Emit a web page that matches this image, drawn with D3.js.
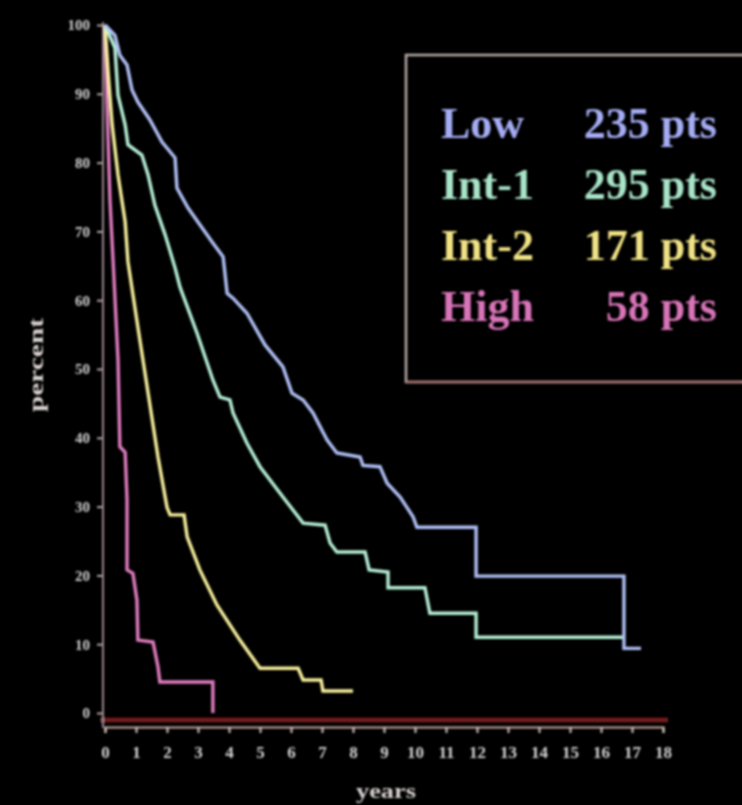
<!DOCTYPE html>
<html>
<head>
<meta charset="utf-8">
<script src="https://cdn.jsdelivr.net/npm/d3@7/dist/d3.min.js"></script>
<style>
  html, body { margin: 0; padding: 0; background: #000; }
  svg { display: block; }
</style>
</head>
<body>
<script>
// Survival by risk group (Kaplan–Meier style step curves)
const groups = ["Low", "Int-1", "Int-2", "High"];
const patients = [235, 295, 171, 58];
const yearTicks = [0, 1, 2, 3, 4, 5, 6, 7, 8, 9, 10, 11, 12, 13, 14, 15, 16, 17, 18];
const percentTicks = [0, 10, 20, 30, 40, 50, 60, 70, 80, 90, 100];

// [years, percent] vertices of each curve
const lowCurve = [
  [0, 100], [0.32, 98.5], [0.48, 95.6], [0.71, 94.2], [0.87, 90.6], [1.06, 88.8],
  [1.45, 86.2], [1.84, 83.0], [2.26, 80.7], [2.32, 76.3], [2.68, 73.4], [3.45, 68.5],
  [3.81, 66.3], [3.94, 61.0], [4.13, 60.3], [4.58, 58.1], [5.16, 53.5], [5.74, 50.3],
  [6.03, 46.5], [6.39, 45.5], [6.71, 43.6], [7.16, 39.7], [7.48, 37.8], [8.23, 37.2],
  [8.32, 36.0], [8.87, 35.8], [9.10, 33.4], [9.52, 31.4], [9.94, 28.5], [10.06, 27.0],
  [11.97, 27.0], [11.97, 19.9], [16.74, 19.9], [16.74, 9.4], [17.29, 9.4]
];
const int1Curve = [
  [0, 100], [0.32, 96.7], [0.42, 89.8], [0.65, 85.5], [0.74, 82.6], [1.19, 81.1],
  [1.39, 78.2], [1.61, 73.8], [1.94, 69.5], [2.26, 64.7], [2.42, 61.9], [2.97, 55.2],
  [3.48, 48.4], [3.71, 45.9], [4.03, 45.5], [4.13, 43.6], [4.58, 39.2], [5.0, 35.8],
  [5.74, 31.4], [6.39, 27.6], [7.10, 27.3], [7.26, 24.7], [7.48, 23.4], [8.39, 23.4],
  [8.52, 20.8], [9.13, 20.5], [9.13, 18.2], [10.32, 18.2], [10.48, 14.5], [11.97, 14.5],
  [11.97, 11.0], [16.74, 11.0]
];
const int2Curve = [
  [0, 100], [0.10, 93.2], [0.23, 85.5], [0.42, 78.2], [0.65, 71.4], [0.74, 65.6],
  [1.06, 56.1], [1.39, 46.5], [1.71, 37.2], [2.0, 29.9], [2.10, 28.8], [2.55, 28.8],
  [2.65, 25.6], [3.06, 20.8], [3.61, 15.7], [4.35, 10.6], [5.0, 6.5], [6.23, 6.5],
  [6.39, 4.8], [6.97, 4.8], [7.03, 3.2], [8.0, 3.2]
];
const highCurve = [
  [0, 100], [0.06, 89.1], [0.16, 74.6], [0.26, 65.8], [0.42, 51.3], [0.48, 38.7],
  [0.65, 37.9], [0.71, 31.0], [0.71, 20.8], [0.90, 20.3], [1.03, 16.4], [1.06, 10.6],
  [1.55, 10.3], [1.71, 6.7], [1.77, 4.5], [3.48, 4.5], [3.48, 0]
];

const curveColors = ["#b0c0f6", "#b6f0d6", "#f8f09c", "#e07cc0"];
const labelColors = ["#a4acf4", "#a8e4c8", "#f0e284", "#d874b8"];
const curves = [lowCurve, int1Curve, int2Curve, highCurve];

const W = 742, H = 805;
const svg = d3.select("body").append("svg").attr("width", W).attr("height", H);
svg.append("rect").attr("width", W).attr("height", H).attr("fill", "#000");

const defs = svg.append("defs");
const soft = defs.append("filter").attr("id", "soft")
  .attr("x", "-5%").attr("y", "-5%").attr("width", "110%").attr("height", "110%");
soft.append("feGaussianBlur").attr("stdDeviation", 0.8);

const x = d3.scaleLinear().domain([0, 18]).range([105, 663]);
const y = d3.scaleLinear().domain([0, 100]).range([713, 25]);

const g = svg.append("g").attr("filter", "url(#soft)");
const serif = "'Liberation Serif', 'DejaVu Serif', serif";

// x axis: dark red band with a pale tick line below it
g.append("line")
  .attr("x1", 100).attr("x2", 668)
  .attr("y1", 720).attr("y2", 720)
  .attr("stroke", "#6e1a1a").attr("stroke-width", 5);

const xAxis = g.append("g")
  .attr("transform", "translate(0,727)")
  .call(d3.axisBottom(x).tickValues(yearTicks).tickSize(6).tickPadding(13).tickFormat(d3.format("d")));
xAxis.select(".domain").attr("stroke", "#c4aaa4").attr("stroke-width", 2);
xAxis.selectAll(".tick line").attr("stroke", "#d8c8c0").attr("stroke-width", 2);
xAxis.selectAll(".tick text")
  .attr("fill", "#d4d4d4").attr("font-family", serif)
  .attr("font-weight", "bold").attr("font-size", 17);

// y axis
const yAxis = g.append("g")
  .attr("transform", "translate(103,0)")
  .call(d3.axisLeft(y).tickValues(percentTicks).tickSize(6).tickPadding(7).tickFormat(d3.format("d")));
yAxis.select(".domain").remove();
g.append("line")
  .attr("x1", 103).attr("x2", 103).attr("y1", 22).attr("y2", 728)
  .attr("stroke", "#9a8890").attr("stroke-width", 2);
yAxis.selectAll(".tick line").attr("stroke", "#b8a8a8").attr("stroke-width", 2);
yAxis.selectAll(".tick text")
  .attr("fill", "#d0d0d0").attr("font-family", serif)
  .attr("font-weight", "bold").attr("font-size", 15);

// axis titles
g.append("text")
  .attr("transform", "translate(38,365) rotate(-90)")
  .attr("text-anchor", "middle").attr("dominant-baseline", "middle")
  .attr("fill", "#d8d0d0").attr("font-family", serif).attr("font-weight", "bold")
  .attr("font-size", 21)
  .attr("textLength", 94).attr("lengthAdjust", "spacingAndGlyphs")
  .text("percent");

g.append("text")
  .attr("x", 386).attr("y", 798)
  .attr("text-anchor", "middle")
  .attr("fill", "#d8d0d0").attr("font-family", serif).attr("font-weight", "bold")
  .attr("font-size", 21)
  .attr("textLength", 60).attr("lengthAdjust", "spacingAndGlyphs")
  .text("years");

// survival curves
const line = d3.line().x(d => x(d[0])).y(d => y(d[1]));
g.selectAll("path.curve")
  .data(curves.slice().reverse())
  .join("path")
  .attr("class", "curve")
  .attr("d", line)
  .attr("fill", "none")
  .attr("stroke", (d, i) => curveColors[curves.length - 1 - i])
  .attr("stroke-width", 3.4)
  .attr("stroke-linejoin", "miter");

// legend box
g.append("rect")
  .attr("x", 406).attr("y", 55).attr("width", 360).attr("height", 327)
  .attr("fill", "none").attr("stroke", "#b8aca8").attr("stroke-width", 2.5);
g.append("line")
  .attr("x1", 406).attr("x2", 742).attr("y1", 382).attr("y2", 382)
  .attr("stroke", "#a8706c").attr("stroke-width", 2.5);

const rowY = [138, 199, 260, 321];
const legend = g.append("g");
legend.selectAll("text.name")
  .data(groups)
  .join("text")
  .attr("class", "name")
  .attr("x", 441).attr("y", (d, i) => rowY[i])
  .attr("fill", (d, i) => labelColors[i])
  .attr("font-family", serif).attr("font-weight", "bold").attr("font-size", 44)
  .text(d => d);
legend.selectAll("text.count")
  .data(patients)
  .join("text")
  .attr("class", "count")
  .attr("x", 717).attr("y", (d, i) => rowY[i])
  .attr("text-anchor", "end")
  .attr("fill", (d, i) => labelColors[i])
  .attr("font-family", serif).attr("font-weight", "bold").attr("font-size", 44)
  .text(d => `${d} pts`);
</script>
</body>
</html>
